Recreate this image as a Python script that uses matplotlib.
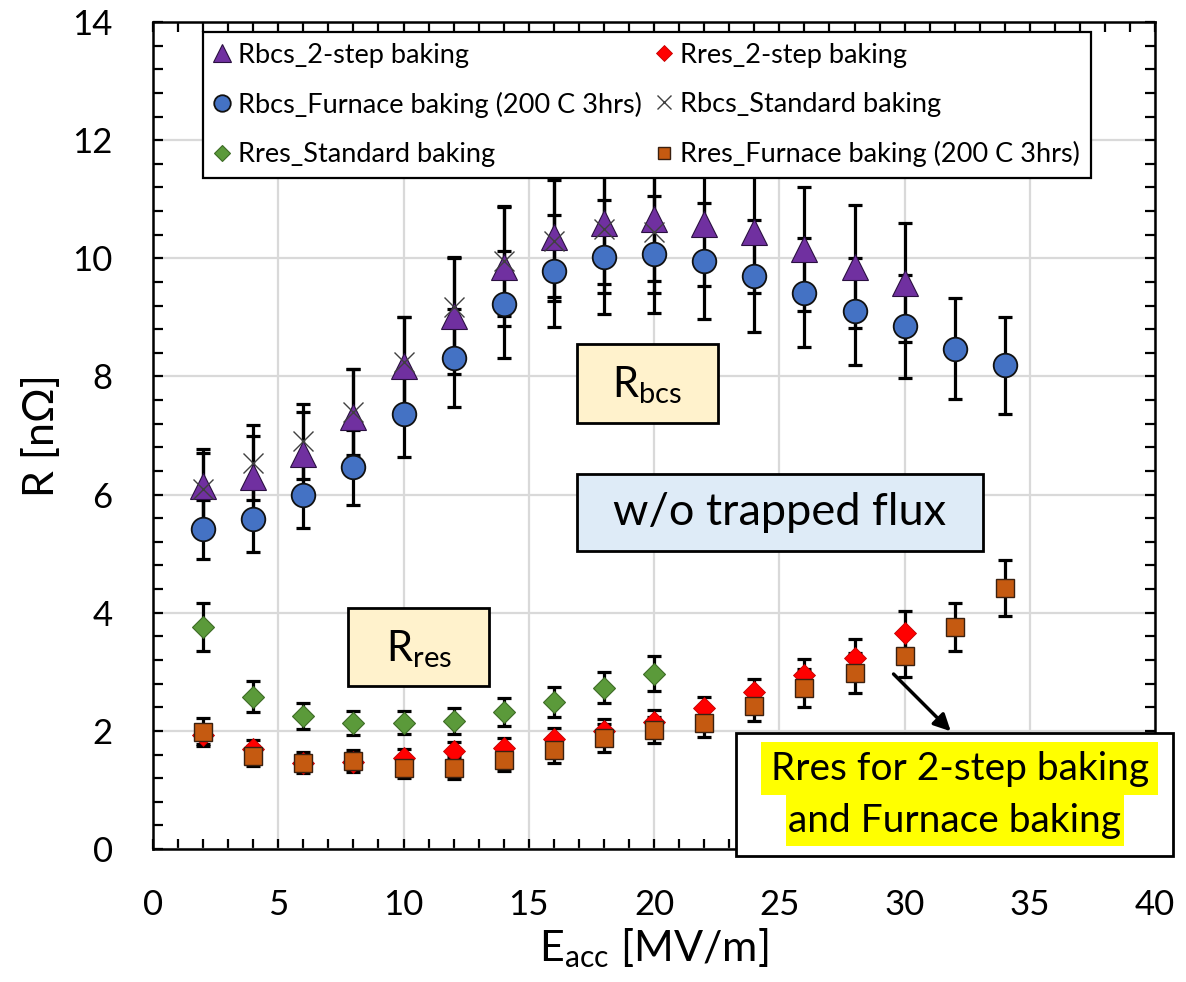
import matplotlib
matplotlib.use("Agg")
import matplotlib.pyplot as plt
from matplotlib.patches import Rectangle
from matplotlib.ticker import MultipleLocator

plt.rcParams['font.family'] = ['Lato', 'DejaVu Sans']

# Eacc values [MV/m]
e_2step = [2, 4, 6, 8, 10, 12, 14, 16, 18, 20, 22, 24, 26, 28, 30]
e_furnace = [2, 4, 6, 8, 10, 12, 14, 16, 18, 20, 22, 24, 26, 28, 30, 32, 34]
e_std = [2, 4, 6, 8, 10, 12, 14, 16, 18, 20]

# Rbcs [nOhm]
rbcs_2step = [6.14, 6.3, 6.68, 7.32, 8.17, 9.02, 9.86, 10.36, 10.6, 10.66, 10.58, 10.44, 10.15, 9.86, 9.59]
rbcs_2step_err = [0.64, 0.7, 0.72, 0.8, 0.83, 0.98, 1.0, 1.02, 1.04, 1.05, 1.05, 1.02, 1.05, 1.04, 1.0]
rbcs_furnace = [5.41, 5.59, 6.0, 6.46, 7.36, 8.32, 9.22, 9.78, 10.02, 10.07, 9.95, 9.7, 9.42, 9.1, 8.85, 8.47, 8.19]
rbcs_furnace_err = [0.5, 0.56, 0.56, 0.63, 0.72, 0.83, 0.9, 0.95, 0.97, 0.99, 0.98, 0.95, 0.93, 0.9, 0.87, 0.86, 0.82]
rbcs_std = [6.1, 6.54, 6.9, 7.4, 8.24, 9.17, 9.95, 10.3, 10.49, 10.44]
rbcs_std_err = [0.6, 0.63, 0.64, 0.73, 0.76, 0.85, 0.93, 1.03, 1.07, 1.02]

# Rres [nOhm]
rres_std = [3.76, 2.58, 2.25, 2.13, 2.14, 2.17, 2.32, 2.49, 2.73, 2.97]
rres_std_err = [0.4, 0.26, 0.22, 0.2, 0.2, 0.22, 0.24, 0.25, 0.26, 0.3]
rres_2step = [1.93, 1.69, 1.46, 1.48, 1.54, 1.66, 1.71, 1.86, 2.0, 2.15, 2.38, 2.66, 2.95, 3.24, 3.66]
rres_2step_err = [0.15, 0.15, 0.12, 0.13, 0.15, 0.16, 0.17, 0.19, 0.2, 0.2, 0.2, 0.22, 0.27, 0.32, 0.37]
rres_furnace = [1.98, 1.58, 1.46, 1.49, 1.37, 1.37, 1.51, 1.68, 1.88, 2.02, 2.14, 2.42, 2.73, 2.98, 3.27, 3.76, 4.42]
rres_furnace_err = [0.24, 0.17, 0.18, 0.18, 0.17, 0.18, 0.19, 0.22, 0.24, 0.22, 0.24, 0.26, 0.32, 0.34, 0.35, 0.41, 0.47]

fig = plt.figure(figsize=(11.86, 9.82), dpi=100)
ax = fig.add_axes([0.129, 0.1354, 0.845, 0.8422])

eb = dict(fmt='none', ecolor='black', elinewidth=2.3, capsize=5, capthick=2.3, zorder=2)
ax.errorbar(e_2step, rbcs_2step, yerr=rbcs_2step_err, **eb)
ax.errorbar(e_furnace, rbcs_furnace, yerr=rbcs_furnace_err, **eb)
ax.errorbar(e_std, rbcs_std, yerr=rbcs_std_err, **eb)
ax.errorbar(e_std, rres_std, yerr=rres_std_err, **eb)
ax.errorbar(e_2step, rres_2step, yerr=rres_2step_err, **eb)
ax.errorbar(e_furnace, rres_furnace, yerr=rres_furnace_err, **eb)

h_r2 = ax.plot(e_2step, rres_2step, 'D', ms=11.5, color='#FF0000', mec='#C00000', mew=0.6, zorder=3,
               label='Rres_2-step baking')[0]
h_rf = ax.plot(e_furnace, rres_furnace, 's', ms=13, color='#C55A11', mec='#3a2010', mew=1.0, zorder=3,
               label='Rres_Furnace baking (200 C 3hrs)')[0]
h_rs = ax.plot(e_std, rres_std, 'D', ms=11, color='#5B9A3A', mec='#3d6b25', mew=0.8, zorder=3,
               label='Rres_Standard baking')[0]
h_b2 = ax.plot(e_2step, rbcs_2step, '^', ms=19, color='#7030A0', mec='#2a1040', mew=0.8, zorder=3,
               label='Rbcs_2-step baking')[0]
h_bf = ax.plot(e_furnace, rbcs_furnace, 'o', ms=17, color='#4472C4', mec='#111111', mew=1.3, zorder=3,
               label='Rbcs_Furnace baking (200 C 3hrs)')[0]
h_bs = ax.plot(e_std, rbcs_std, 'x', ms=15, color='#404040', mew=1.0, zorder=3.5,
               label='Rbcs_Standard baking')[0]

ax.set_xlim(0, 40)
ax.set_ylim(0, 14)
ax.xaxis.set_major_locator(MultipleLocator(5))
ax.xaxis.set_minor_locator(MultipleLocator(1))
ax.yaxis.set_major_locator(MultipleLocator(2))
ax.yaxis.set_minor_locator(MultipleLocator(0.4))
ax.tick_params(which='both', direction='in', top=True, right=True, length=7, width=1.6, color='black')
ax.tick_params(which='major', labelsize=25, pad=29)
ax.grid(True, which='major', color='#D9D9D9', lw=1.6, zorder=0)
ax.set_axisbelow(True)
for s in ax.spines.values():
    s.set_linewidth(1.8)

ax.set_xlabel(r'$\mathregular{E_{acc}}$ [MV/m]', fontsize=31, labelpad=4)
ax.set_ylabel('R [nΩ]', fontsize=31, labelpad=8)

leg = ax.legend(handles=[h_b2, h_bf, h_rs, h_r2, h_bs, h_rf], ncol=2, loc='upper left',
                bbox_to_anchor=(0.05, 0.988), borderaxespad=0, fontsize=19.5, frameon=True,
                fancybox=False, edgecolor='black', framealpha=1, markerscale=0.7,
                handlelength=0.6, handletextpad=0.3, columnspacing=0.5, labelspacing=0.89,
                borderpad=0.4)
leg.get_frame().set_linewidth(1.6)
leg.set_zorder(10)

# text boxes
def box(x0, y0, x1, y1, fc):
    ax.add_patch(Rectangle((x0, y0), x1 - x0, y1 - y0, transform=ax.transAxes, fc=fc,
                           ec='black', lw=2, zorder=6, clip_on=False))

box(0.423, 0.515, 0.564, 0.611, '#FFF2CC')
ax.text(0.4935, 0.561, r'$\mathregular{R_{bcs}}$', transform=ax.transAxes, fontsize=30,
        ha='center', va='center', zorder=7)
box(0.195, 0.197, 0.335, 0.291, '#FFF2CC')
ax.text(0.265, 0.242, r'$\mathregular{R_{res}}$', transform=ax.transAxes, fontsize=30,
        ha='center', va='center', zorder=7)
box(0.423, 0.360, 0.828, 0.453, '#DEEBF7')
ax.text(0.6255, 0.4065, 'w/o trapped flux', transform=ax.transAxes, fontsize=32.5,
        ha='center', va='center', zorder=7)

box(0.582, -0.0085, 1.018, 0.140, 'white')
ax.add_patch(Rectangle((0.607, 0.065), 0.396, 0.064, transform=ax.transAxes, fc='#FFFF00',
                       ec='none', zorder=7, clip_on=False))
ax.add_patch(Rectangle((0.632, 0.0036), 0.337, 0.0614, transform=ax.transAxes, fc='#FFFF00',
                       ec='none', zorder=7, clip_on=False))
ax.text(0.805, 0.097, 'Rres for 2-step baking', transform=ax.transAxes, fontsize=28,
        ha='center', va='center', zorder=8)
ax.text(0.800, 0.034, 'and Furnace baking', transform=ax.transAxes, fontsize=28,
        ha='center', va='center', zorder=8)
ax.annotate('', xy=(0.798, 0.140), xytext=(0.737, 0.214), xycoords='axes fraction',
            arrowprops=dict(arrowstyle='-|>', color='black', lw=2.5, mutation_scale=25),
            zorder=9)

fig.savefig('out.png', dpi=100)
